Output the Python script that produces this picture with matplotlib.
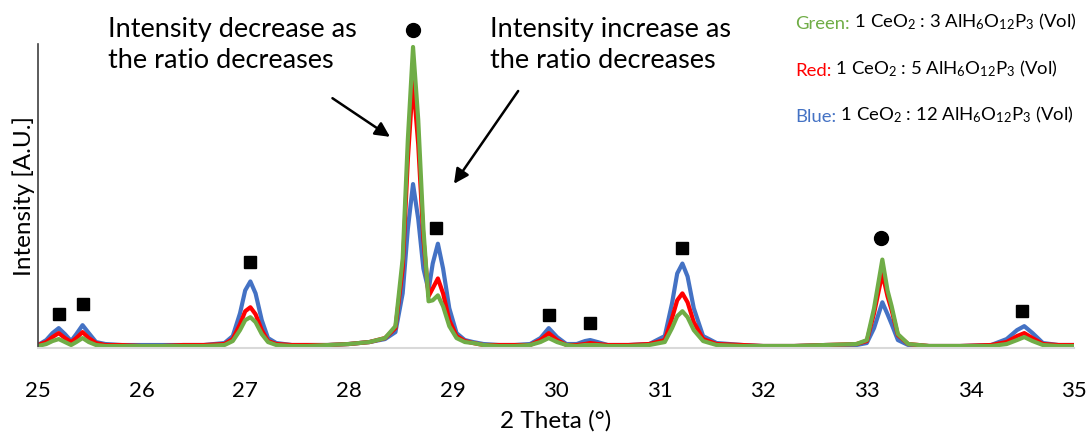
import matplotlib
matplotlib.use("Agg")
from matplotlib import pyplot as plt

plt.rcParams['font.family'] = ['Lato', 'DejaVu Sans']
plt.rcParams['mathtext.fontset'] = 'custom'
plt.rcParams['mathtext.rm'] = 'Lato'
plt.rcParams['mathtext.it'] = 'Lato:italic'

# 2 theta sample points
two_theta = [
    25.00, 25.08, 25.14, 25.20, 25.26, 25.32, 25.37, 25.43, 25.49, 25.56, 25.65, 25.80,
    26.00, 26.20, 26.40, 26.60, 26.80, 26.88, 26.95, 27.00, 27.05, 27.10, 27.16, 27.22, 27.30, 27.45, 27.60, 27.80,
    28.00, 28.20, 28.35, 28.45, 28.52, 28.57, 28.62, 28.67, 28.72, 28.77, 28.81, 28.86, 28.91, 28.97, 29.04, 29.12, 29.20, 29.30,
    29.45, 29.60, 29.75, 29.85, 29.93, 30.01, 30.10, 30.20, 30.28, 30.33, 30.40, 30.50, 30.70, 30.90,
    31.05, 31.12, 31.17, 31.22, 31.27, 31.33, 31.42, 31.55, 31.80,
    32.00, 32.30, 32.60, 32.90, 33.00, 33.07, 33.15, 33.20, 33.24, 33.30, 33.40, 33.60, 33.90,
    34.20, 34.35, 34.45, 34.52, 34.60, 34.70, 34.85, 35.00,
]

blue_12 = [
    3, 8, 15, 20, 14, 7, 14, 23, 15, 6, 4, 3,
    3, 3, 3, 3, 5, 12, 35, 58, 67, 55, 28, 10, 5, 3, 3, 3,
    4, 6, 9, 16, 55, 120, 165, 130, 80, 58, 85, 105, 80, 40, 15, 8, 6, 4,
    3, 3, 4, 10, 20, 11, 4, 4, 7, 8, 6, 3, 3, 4,
    12, 45, 75, 85, 72, 40, 12, 5, 3,
    2, 2, 3, 3, 5, 20, 46, 34, 24, 8, 3, 2, 2,
    3, 9, 18, 22, 15, 5, 3, 3,
]

red_5 = [
    3, 6, 11, 15, 10, 6, 10, 16, 10, 5, 3, 3,
    2, 2, 3, 3, 4, 9, 24, 37, 41, 34, 18, 7, 4, 3, 3, 3,
    4, 6, 10, 20, 80, 190, 270, 205, 110, 52, 60, 70, 55, 28, 12, 7, 5, 3,
    3, 3, 3, 8, 15, 8, 3, 3, 4, 5, 4, 3, 3, 4,
    8, 30, 48, 55, 46, 26, 9, 4, 3,
    2, 2, 3, 4, 7, 35, 75, 52, 38, 13, 4, 2, 2,
    3, 6, 12, 15, 10, 4, 3, 3,
]

green_3 = [
    2, 4, 7, 9, 6, 3, 6, 10, 6, 3, 2, 2,
    2, 2, 2, 2, 3, 7, 18, 28, 31, 26, 14, 6, 3, 2, 2, 3,
    4, 6, 10, 22, 90, 210, 303, 230, 120, 47, 48, 53, 42, 22, 10, 6, 5, 3,
    2, 2, 3, 6, 10, 6, 3, 2, 3, 3, 3, 2, 2, 3,
    6, 20, 32, 37, 31, 18, 7, 3, 2,
    2, 2, 3, 4, 8, 40, 89, 58, 42, 14, 4, 2, 2,
    2, 4, 8, 11, 7, 3, 2, 2,
]

# peak markers
square_x = [25.20, 25.43, 27.05, 28.84, 29.93, 30.33, 31.22, 34.50]
square_y = [34, 44, 87, 121, 33, 25, 101, 37]
circle_x = [28.62, 33.14]
circle_y = [320, 111]

legend_names = ["Green:", "Red:", "Blue:"]
legend_texts = [
    r"1 CeO$_2$ : 3 AlH$_6$O$_{12}$P$_3$ (Vol)",
    r"1 CeO$_2$ : 5 AlH$_6$O$_{12}$P$_3$ (Vol)",
    r"1 CeO$_2$ : 12 AlH$_6$O$_{12}$P$_3$ (Vol)",
]

BLUE = "#4472C4"
RED = "#FF0000"
GREEN = "#70AD47"

fig = plt.figure(figsize=(10.92, 4.36), dpi=100)
ax = fig.add_axes([38 / 1092, 1 - 348 / 436, (1074 - 38) / 1092, (348 - 44) / 436])

for ys, col in [(blue_12, BLUE), (red_5, RED), (green_3, GREEN)]:
    ax.plot(two_theta, ys, color=col, lw=3, solid_joinstyle='round')

ax.plot(square_x, square_y, 's', color='black', ms=8.5, clip_on=False)
ax.plot(circle_x, circle_y, 'o', color='black', ms=10, clip_on=False)

ax.set_xlim(25, 35)
ax.set_ylim(0, 306)
ax.set_xticks(range(25, 36))
ax.set_yticks([])
ax.tick_params(axis='x', length=0, labelsize=16, pad=24)
for s in ['top', 'right']:
    ax.spines[s].set_visible(False)
ax.spines['bottom'].set_color('#D9D9D9')
ax.spines['bottom'].set_linewidth(1.5)
ax.spines['left'].set_color('#404040')
ax.spines['left'].set_linewidth(1.2)

ax.set_xlabel("2 Theta (°)", fontsize=17.5, labelpad=6)
ax.set_ylabel("Intensity [A.U.]", fontsize=17.5, labelpad=2)

# annotations
fig.text(108 / 1092, 1 - 17 / 436, "Intensity decrease as\nthe ratio decreases",
         fontsize=19.5, va='top', ha='left', linespacing=1.3)
fig.text(490 / 1092, 1 - 17 / 436, "Intensity increase as\nthe ratio decreases",
         fontsize=19.5, va='top', ha='left', linespacing=1.3)
arrow = dict(arrowstyle='-|>', color='black', lw=1.8, mutation_scale=22)
ax.annotate("", xy=(28.42, 211), xytext=(27.82, 253), arrowprops=arrow, annotation_clip=False)
ax.annotate("", xy=(29.0, 163), xytext=(29.65, 261), arrowprops=arrow, annotation_clip=False)

# colour-keyed legend text
for i, (name, txt, col) in enumerate(zip(legend_names, legend_texts, [GREEN, RED, BLUE])):
    y = 1 - (24 + i * 46.5) / 436
    t = fig.text(795 / 1092, y, name, color=col, fontsize=13.3, va='center', ha='left')
    ax.annotate(" " + txt, xy=(1, 0), xycoords=t, va='bottom', ha='left',
                fontsize=13.3, color='black', annotation_clip=False)

fig.savefig("out.png", dpi=100)
